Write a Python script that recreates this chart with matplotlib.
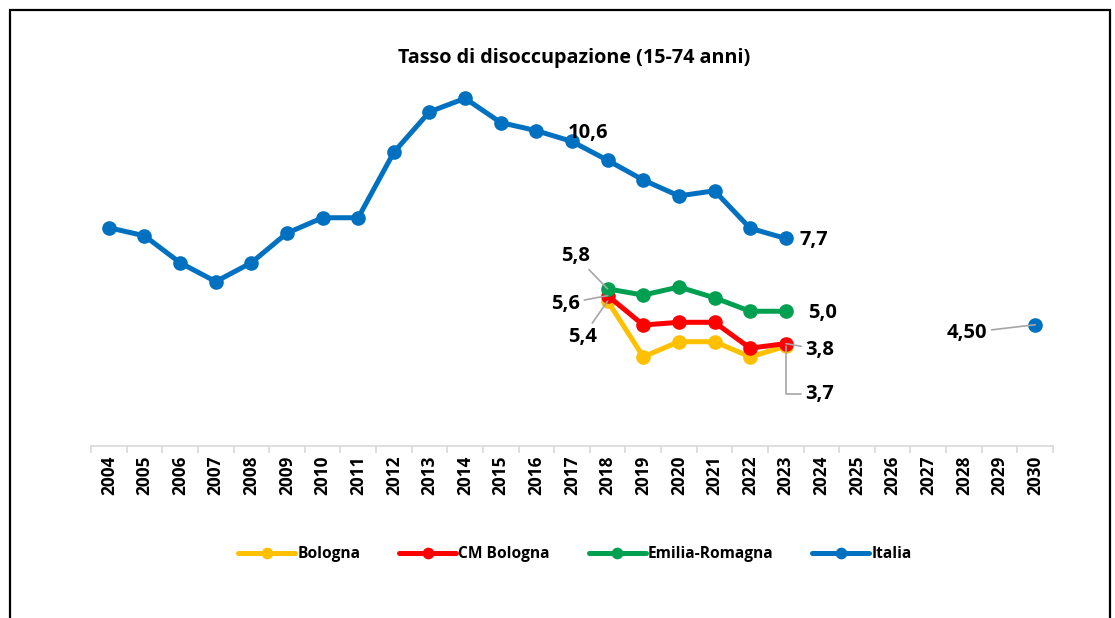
import matplotlib
matplotlib.use('Agg')
import matplotlib.pyplot as plt
import numpy as np
from matplotlib.patches import Rectangle
from matplotlib.ticker import FixedLocator

plt.rcParams['font.family'] = ['Open Sans', 'DejaVu Sans']
plt.rcParams['font.weight'] = 'bold'

nan = float('nan')
anni = [str(a) for a in range(2004, 2031)]
# Italia: dati 2004-2023, poi obiettivo 2030
italia = [8.1, 7.8, 6.8, 6.1, 6.8, 7.9, 8.47, 8.47, 10.9, 12.4, 12.9, 12.0, 11.7, 11.3,
          10.6, 9.87, 9.28, 9.47, 8.08, 7.7, nan, nan, nan, nan, nan, nan, 4.5]
emilia = [nan] * 14 + [5.83, 5.6, 5.9, 5.5, 5.0, 5.0] + [nan] * 7
cm_bologna = [nan] * 14 + [5.58, 4.49, 4.59, 4.59, 3.63, 3.8] + [nan] * 7
bologna = [nan] * 14 + [5.38, 3.31, 3.87, 3.87, 3.31, 3.7] + [nan] * 7

serie = [('Bologna', bologna, '#FFC000'),
         ('CM Bologna', cm_bologna, '#FF0000'),
         ('Emilia-Romagna', emilia, '#00A050'),
         ('Italia', italia, '#0070C0')]

fig = plt.figure(figsize=(11.15, 6.18), dpi=100)
ax = fig.add_axes([91 / 1115, 1 - 446 / 618, 962 / 1115, 377.3 / 618])
x = np.arange(len(anni))

for nome, vals, col in serie:
    ax.plot(x, vals, color=col, lw=3.6, marker='o', ms=9.5, label=nome,
            solid_capstyle='round', zorder=3)

ax.set_xlim(-0.5, len(anni) - 0.5)
ax.set_ylim(0, 14)
ax.set_yticks([])
for s in ['top', 'left', 'right']:
    ax.spines[s].set_visible(False)
ax.spines['bottom'].set_color('#D9D9D9')
ax.spines['bottom'].set_linewidth(1.2)
ax.set_xticks(x)
ax.set_xticklabels(anni, rotation=90, fontsize=12.4, fontweight='bold')
ax.tick_params(axis='x', which='major', length=0, pad=7)
ax.xaxis.set_minor_locator(FixedLocator(np.arange(-0.5, len(anni), 1)))
ax.tick_params(axis='x', which='minor', length=5, color='#D9D9D9', width=1.2)

# etichette dati
grigio = '#A6A6A6'
def etichetta(i, vals, testo, dx, dy, leader=None):
    kw = {}
    if leader is not None:
        kw['arrowprops'] = dict(arrowstyle='-', color=grigio, lw=1.2,
                                shrinkA=1, shrinkB=0, connectionstyle=leader)
    ax.annotate(testo, (x[i], vals[i]), xytext=(dx, dy), textcoords='offset pixels',
                ha='center', va='center', fontsize=14.5, fontweight='bold', **kw)

i18 = anni.index('2018')
i23 = anni.index('2023')
i30 = anni.index('2030')
etichetta(i18, italia, '10,6', -20, 27)
etichetta(i23, italia, '7,7', 28, -2)
etichetta(i18, emilia, '5,8', -32, 33, 'arc3')
etichetta(i18, cm_bologna, '5,6', -42, -8, 'arc3')
etichetta(i18, bologna, '5,4', -25, -36, 'arc3')
etichetta(i23, emilia, '5,0', 37, -2)
etichetta(i23, cm_bologna, '3,8', 34, -6, 'arc3')
etichetta(i23, bologna, '3,7', 34, -48, 'angle,angleA=0,angleB=90,rad=0')
etichetta(i30, italia, '4,50', -68, -8, 'arc3')

fig.text(574 / 1115, 1 - 58 / 618, 'Tasso di disoccupazione (15-74 anni)',
         ha='center', va='center', fontsize=14.2, fontweight='bold')

leg = fig.legend(loc='center', bbox_to_anchor=(575 / 1115, 1 - 554 / 618), ncol=4,
                 frameon=False, handlelength=3.65, columnspacing=2.5,
                 handletextpad=0.15, markerscale=0.78,
                 prop={'weight': 'bold', 'size': 11.2})

fig.add_artist(Rectangle((10 / 1115, -0.1), 1100 / 1115, 1.1 - 10 / 618,
                         transform=fig.transFigure, fill=False, ec='black', lw=1.6))

fig.savefig('out.png', dpi=100)
